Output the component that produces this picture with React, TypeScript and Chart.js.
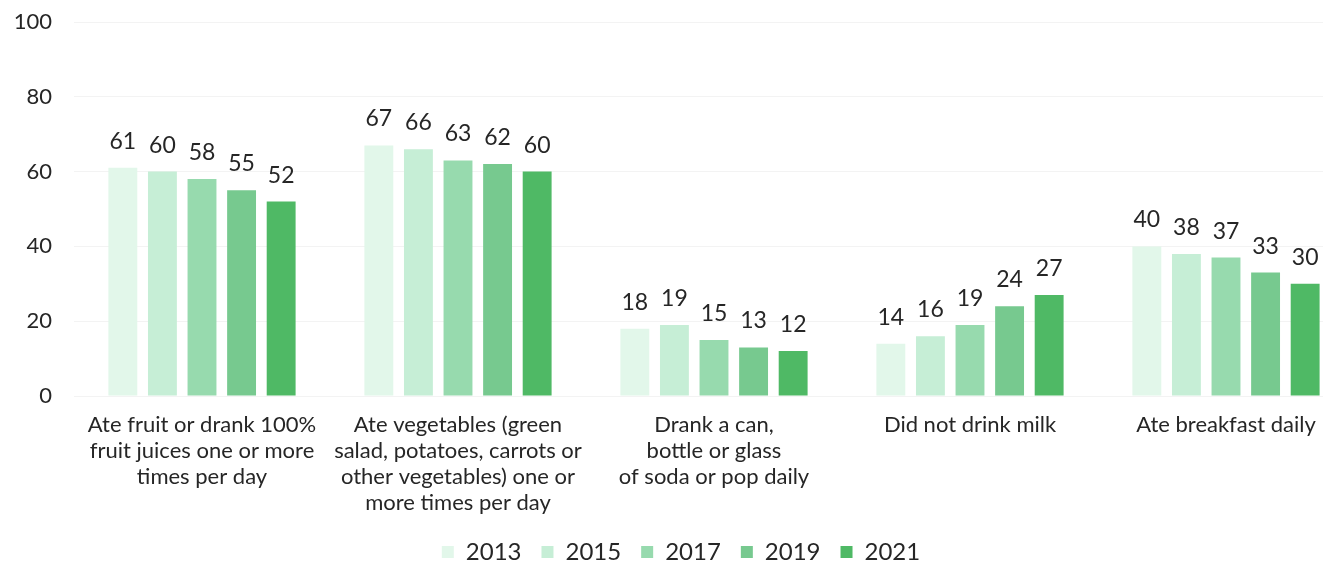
import React, { useEffect, useRef } from "react";
import { Chart, registerables } from "chart.js";

Chart.register(...registerables);

const categories: string[][] = [
  ["Ate fruit or drank 100%", "fruit juices one or more", "times per day"],
  ["Ate vegetables (green", "salad, potatoes, carrots or", "other vegetables) one or", "more times per day"],
  ["Drank a can,", "bottle or glass", "of soda or pop daily"],
  ["Did not drink milk"],
  ["Ate breakfast daily"],
];

const years = ["2013", "2015", "2017", "2019", "2021"];
const values2013 = [61, 67, 18, 14, 40];
const values2015 = [60, 66, 19, 16, 38];
const values2017 = [58, 63, 15, 19, 37];
const values2019 = [55, 62, 13, 24, 33];
const values2021 = [52, 60, 12, 27, 30];
const yTicks = [0, 20, 40, 60, 80, 100];

const colors = ["#E2F7EA", "#C6EED6", "#97DAAE", "#77C98F", "#4FB965"];
const FONT = "Lato, 'Noto Sans', sans-serif";
const TEXT = "#262626";

const valueLabels = {
  id: "valueLabels",
  afterDatasetsDraw(chart: any) {
    const ctx = chart.ctx;
    ctx.save();
    ctx.font = `23px ${FONT}`;
    ctx.fillStyle = TEXT;
    ctx.textAlign = "center";
    ctx.textBaseline = "alphabetic";
    chart.data.datasets.forEach((ds: any, i: number) => {
      const meta = chart.getDatasetMeta(i);
      meta.data.forEach((bar: any, j: number) => {
        ctx.fillText(String(ds.data[j]), bar.x, bar.y - 19);
      });
    });
    ctx.restore();
  },
};

export default function App() {
  const ref = useRef<HTMLCanvasElement | null>(null);
  useEffect(() => {
    if (!ref.current) return;
    const series = [values2013, values2015, values2017, values2019, values2021];
    const chart = new Chart(ref.current, {
      type: "bar",
      data: {
        labels: categories,
        datasets: years.map((y, i) => ({
          label: y,
          data: series[i],
          backgroundColor: colors[i],
          borderWidth: 0,
          categoryPercentage: 0.773,
          barPercentage: 0.73,
        })),
      },
      options: {
        animation: false,
        responsive: false,
        maintainAspectRatio: false,
        layout: { padding: { left: 0, right: 24, top: 14, bottom: 0 } },
        plugins: {
          tooltip: { enabled: false },
          legend: {
            position: "bottom",
            labels: {
              boxWidth: 12,
              boxHeight: 12,
              padding: 20,
              color: TEXT,
              font: { family: FONT, size: 24 },
            },
          },
        },
        scales: {
          x: {
            grid: { display: false, drawTicks: false },
            border: { display: false },
            ticks: {
              color: TEXT,
              font: { family: FONT, size: 22, lineHeight: 1.18 },
              padding: 16,
              autoSkip: false,
              maxRotation: 0,
              minRotation: 0,
            },
            afterFit: (s: any) => {
              s.height = 124;
            },
          },
          y: {
            min: 0,
            max: 100,
            afterBuildTicks: (s: any) => {
              s.ticks = yTicks.map((v) => ({ value: v }));
            },
            grid: {
              color: "#f3f3f3",
              drawTicks: true,
              tickLength: 22,
              tickColor: "rgba(0,0,0,0)",
            },
            border: { display: false },
            ticks: {
              color: TEXT,
              font: { family: FONT, size: 22 },
              padding: 0,
            },
            afterFit: (s: any) => {
              s.width = 66;
            },
          },
        },
      },
      plugins: [valueLabels],
    });
    return () => chart.destroy();
  }, []);
  return (
    <div
      style={{
        position: "fixed",
        left: 8,
        top: 8,
        width: 1315,
        height: 559,
        overflow: "hidden",
      }}
    >
      <canvas ref={ref} width={1370} height={566} style={{ display: "block" }} />
    </div>
  );
}
